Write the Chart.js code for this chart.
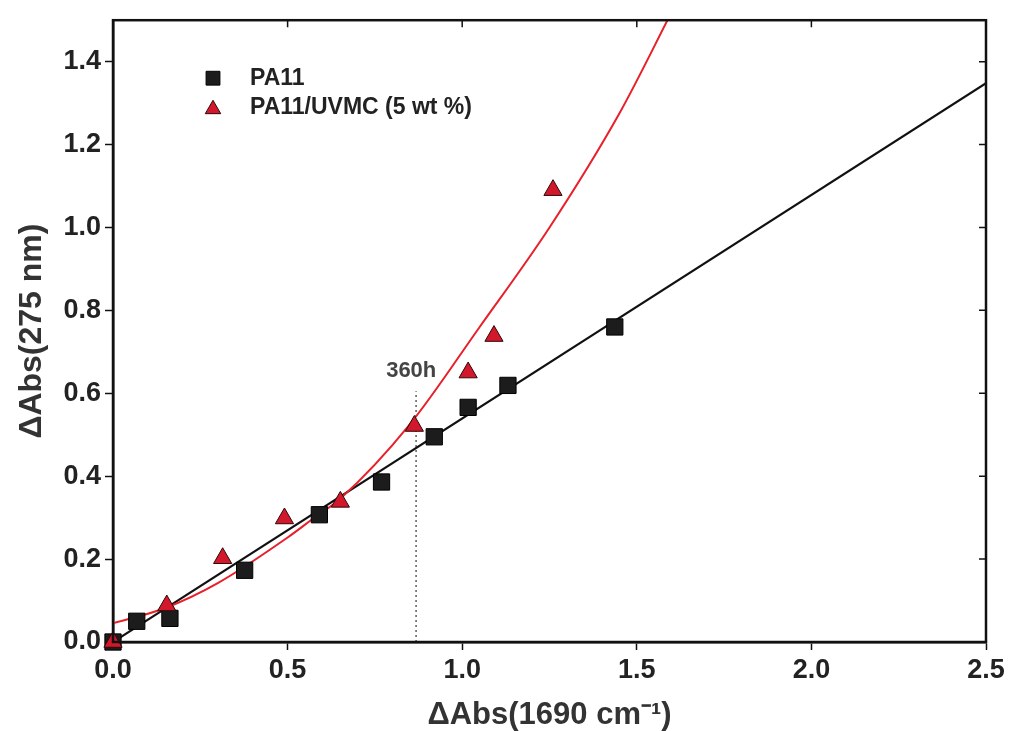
<!DOCTYPE html>
<html>
<head>
<meta charset="utf-8">
<script src="https://cdn.jsdelivr.net/npm/chart.js@4/dist/chart.umd.min.js"></script>
<style>
html,body{margin:0;padding:0;background:#fff;}
#wrap{position:relative;width:1014px;height:731px;}
</style>
</head>
<body>
<div id="wrap"><canvas id="c" width="1014" height="731"></canvas></div>
<script>
// ---- data ----
const pa11X = [0, 0.068, 0.163, 0.377, 0.591, 0.769, 0.92, 1.017, 1.131, 1.437];
const pa11Y = [0, 0.05, 0.057, 0.173, 0.307, 0.386, 0.495, 0.566, 0.619, 0.76];
const uvmcX = [0, 0.154, 0.314, 0.491, 0.651, 0.863, 1.017, 1.091, 1.26];
const uvmcY = [0, 0.088, 0.202, 0.298, 0.338, 0.521, 0.65, 0.738, 1.09];
// fitted lines as drawn in the picture
const linFitX = [0, 2.5];
const linFitY = [0, 1.348];
const expFitX = [0, 0.15, 0.3, 0.5, 0.58, 0.65, 0.85, 1.05, 1.25, 1.45, 1.6];
const expFitY = [0.045, 0.082, 0.142, 0.252, 0.302, 0.345, 0.525, 0.76, 1.0, 1.275, 1.52];
// 360 h marker
const markX = [0.868, 0.868];
const markY = [0, 0.605];
const markLabel = '360h';
const markLabelPos = [0.854, 0.655];
// axes
const xTicks = [0, 0.5, 1.0, 1.5, 2.0, 2.5];
const yTicks = [0, 0.2, 0.4, 0.6, 0.8, 1.0, 1.2, 1.4];
const seriesNames = ['PA11', 'PA11/UVMC (5 wt %)'];
const xTitle = 'ΔAbs(1690 cm⁻¹)';
const yTitle = 'ΔAbs(275 nm)';

const pts = (xs, ys) => xs.map((x, i) => ({x: x, y: ys[i]}));
const FONT = '"Liberation Sans", Arial, sans-serif';

const framePlugin = {
  id: 'frame',
  afterDraw(chart) {
    const {ctx, chartArea: a, scales} = chart;
    ctx.save();
    ctx.strokeStyle = '#111';
    ctx.lineWidth = 2.5;
    ctx.strokeRect(a.left, a.top, a.right - a.left, a.bottom - a.top);
    ctx.lineWidth = 1.5;
    ctx.beginPath();
    xTicks.forEach(v => {
      const px = scales.x.getPixelForValue(v);
      ctx.moveTo(px, a.top); ctx.lineTo(px, a.top + 7);
    });
    yTicks.forEach(v => {
      const py = scales.y.getPixelForValue(v);
      ctx.moveTo(a.right, py); ctx.lineTo(a.right - 7, py);
    });
    ctx.stroke();
    // annotation text
    ctx.fillStyle = '#444';
    ctx.font = 'bold 22px ' + FONT;
    ctx.textAlign = 'center';
    ctx.textBaseline = 'middle';
    ctx.fillText(markLabel, scales.x.getPixelForValue(markLabelPos[0]), scales.y.getPixelForValue(markLabelPos[1]));
    // legend
    const items = [0, 1];
    items.forEach((di, k) => {
      const ds = chart.data.datasets[di];
      const cy = a.top + 58 + k * 29;
      const cx = a.left + 100;
      ctx.fillStyle = ds.pointBackgroundColor;
      ctx.strokeStyle = ds.pointBorderColor;
      ctx.lineWidth = 1;
      Chart.helpers.drawPoint(ctx, {pointStyle: ds.pointStyle, radius: ds.pointRadius * 0.85, borderWidth: 1}, cx, cy + (ds.pointStyle === 'triangle' ? 2 : 0));
      ctx.fillStyle = '#222';
      ctx.font = 'bold 23px ' + FONT;
      ctx.textAlign = 'left';
      ctx.textBaseline = 'middle';
      ctx.fillText(seriesNames[di], a.left + 137, cy);
    });
    ctx.restore();
  }
};

new Chart(document.getElementById('c'), {
  type: 'scatter',
  data: {
    datasets: [
      {
        label: seriesNames[0], data: pts(pa11X, pa11Y),
        pointStyle: 'rect', pointRadius: 11.5, pointHoverRadius: 11.5,
        pointBackgroundColor: '#1c1c1c', pointBorderColor: '#000', pointBorderWidth: 1,
        showLine: false, clip: false, order: 1
      },
      {
        label: seriesNames[1], data: pts(uvmcX, uvmcY),
        pointStyle: 'triangle', pointRadius: 10.5, pointHoverRadius: 10.5,
        pointBackgroundColor: '#d4182c', pointBorderColor: '#2a0a0a', pointBorderWidth: 1,
        showLine: false, clip: false, order: 0
      },
      {
        label: 'fit1', data: pts(linFitX, linFitY), showLine: true,
        borderColor: '#111', borderWidth: 2.2, pointRadius: 0, order: 3
      },
      {
        label: 'fit2', data: pts(expFitX, expFitY), showLine: true,
        borderColor: '#e8202a', borderWidth: 2, pointRadius: 0,
        cubicInterpolationMode: 'monotone', order: 2
      },
      {
        label: 'mark', data: pts(markX, markY), showLine: true,
        borderColor: '#777', borderWidth: 1.8, borderDash: [2, 3], pointRadius: 0, order: 4
      }
    ]
  },
  options: {
    responsive: false,
    animation: false,
    events: [],
    layout: {padding: {top: 14, right: 28, left: 0, bottom: 0}},
    plugins: {legend: {display: false}, tooltip: {enabled: false}},
    scales: {
      x: {
        type: 'linear', min: 0, max: 2.5,
        afterBuildTicks: s => { s.ticks = xTicks.map(v => ({value: v})); },
        afterFit: s => { s.height = 89; },
        ticks: {
          callback: v => v.toFixed(1), color: '#222', padding: 4,
          font: {family: FONT, size: 27, weight: 'bold'}, maxRotation: 0
        },
        grid: {drawOnChartArea: false, tickLength: 8, tickWidth: 1.5, tickColor: '#111'},
        border: {color: '#111', width: 2.5},
        title: {
          display: true, text: xTitle, color: '#333',
          font: {family: FONT, size: 31, weight: 'bold', lineHeight: 1},
          padding: {top: 0, bottom: 0}
        }
      },
      y: {
        type: 'linear', min: 0, max: 1.5,
        afterBuildTicks: s => { s.ticks = yTicks.map(v => ({value: v})); },
        afterFit: s => { s.width = 113; },
        ticks: {
          callback: v => v.toFixed(1), color: '#222', padding: 4,
          font: {family: FONT, size: 27, weight: 'bold'}
        },
        grid: {drawOnChartArea: false, tickLength: 8, tickWidth: 1.5, tickColor: '#111'},
        border: {color: '#111', width: 2.5},
        title: {
          display: true, text: yTitle, color: '#333',
          font: {family: FONT, size: 32, weight: 'bold', lineHeight: 1},
          padding: {top: 16, bottom: 0}
        }
      }
    }
  },
  plugins: [framePlugin]
});
</script>
</body>
</html>
